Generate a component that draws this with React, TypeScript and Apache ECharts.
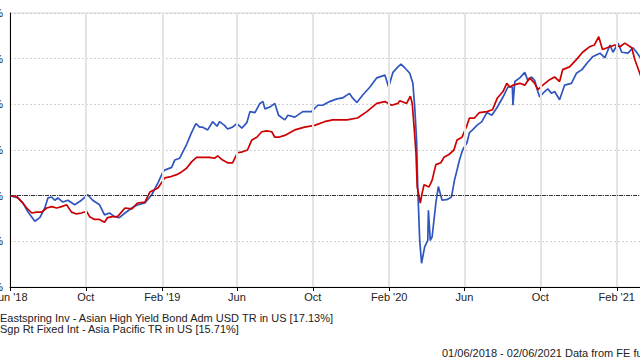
import React, { useEffect, useRef } from "react";
import * as echarts from "echarts";

const blueDates = [
  "2018-06-01","2018-06-14","2018-06-22","2018-06-30","2018-07-11","2018-07-19","2018-07-27","2018-08-01","2018-08-07","2018-08-12","2018-08-17","2018-08-25","2018-09-02","2018-09-13","2018-09-24","2018-10-04","2018-10-12","2018-10-23","2018-10-31","2018-11-08","2018-11-16","2018-11-24","2018-12-03","2018-12-14","2018-12-23",
  "2019-01-04","2019-01-15","2019-01-25","2019-02-02","2019-02-05","2019-02-16","2019-02-21","2019-03-01","2019-03-06","2019-03-12","2019-03-20","2019-03-27","2019-04-02","2019-04-07","2019-04-15","2019-04-23","2019-04-30","2019-05-04","2019-05-12","2019-05-17","2019-05-25","2019-06-01","2019-06-09","2019-06-17","2019-06-22","2019-06-30","2019-07-08","2019-07-13","2019-07-16","2019-07-24","2019-08-01","2019-08-07","2019-08-17","2019-08-22","2019-09-02","2019-09-15","2019-09-29","2019-10-09","2019-10-17","2019-10-28","2019-11-09","2019-11-18","2019-11-29","2019-12-04","2019-12-11","2019-12-20",
  "2020-01-01","2020-01-12","2020-01-25","2020-01-31","2020-02-07","2020-02-15","2020-02-20","2020-02-26","2020-03-05","2020-03-10","2020-03-13","2020-03-16","2020-03-18","2020-03-21","2020-03-24","2020-03-29","2020-04-03","2020-04-04","2020-04-07","2020-04-10","2020-04-16","2020-04-20","2020-04-26","2020-05-05","2020-05-11","2020-05-16","2020-05-24","2020-05-29","2020-06-05","2020-06-09","2020-06-14","2020-06-21","2020-06-29","2020-07-07","2020-07-15","2020-07-23","2020-08-02","2020-08-10","2020-08-17","2020-08-18","2020-08-21","2020-08-29","2020-09-06","2020-09-11","2020-09-17","2020-09-22","2020-09-27","2020-09-30","2020-10-08","2020-10-13","2020-10-19","2020-10-24","2020-11-01","2020-11-09","2020-11-20","2020-11-28","2020-12-07","2020-12-15","2020-12-24",
  "2021-01-05","2021-01-13","2021-01-21","2021-01-26","2021-02-03","2021-02-09","2021-02-19","2021-02-27","2021-03-05","2021-03-10","2021-03-15"
];
const blueValues = [
  0,-0.25,-0.8,-1.8,-2.8,-2.4,-1.35,-0.25,-0.15,-0.5,-0.25,-0.7,-0.5,-1.0,-0.5,0.1,-0.5,-1.0,-2.1,-1.9,-2.3,-2.4,-1.9,-1.35,-1.0,
  -0.8,0.1,1.4,2.6,2.8,3.1,3.9,4.1,4.8,5.6,6.9,7.9,7.5,7.5,7.2,8.1,7.6,8.1,7.7,7.3,7.5,7.9,7.4,8.0,9.2,9.1,10.1,10.3,9.5,9.7,10.1,8.8,8.3,8.8,8.6,9.2,9.2,9.9,9.9,10.3,10.6,10.7,11.2,10.7,10.2,11.0,
  11.9,12.9,13.2,11.9,13.5,14.1,14.4,14.0,13.4,12.3,9.7,6.1,0.6,-4.9,-7.4,-5.6,-4.9,-1.6,-4.9,-4.5,-0.8,1.0,-0.5,-0.4,-0.15,1.7,3.9,5.0,5.8,6.9,7.2,7.7,8.1,9.1,8.8,9.6,10.8,11.9,11.9,9.9,12.5,12.9,13.5,12.6,13.0,12.6,11.4,10.8,11.4,11.7,11.2,11.4,10.5,12.1,12.3,13.4,13.8,14.5,15.2,
  15.6,15.1,16.5,15.7,16.7,15.7,15.6,16.2,15.7,15.2,14.8
];

const redDates = [
  "2018-06-01","2018-06-12","2018-06-20","2018-06-28","2018-07-06","2018-07-14","2018-07-22","2018-07-30","2018-08-07","2018-08-15","2018-08-23","2018-08-31","2018-09-08","2018-09-16","2018-09-24","2018-10-02","2018-10-07","2018-10-15","2018-10-23","2018-10-31","2018-11-05","2018-11-13","2018-11-21","2018-12-03","2018-12-14","2018-12-23",
  "2019-01-04","2019-01-12","2019-01-25","2019-02-05","2019-02-13","2019-02-24","2019-03-04","2019-03-12","2019-03-20","2019-03-28","2019-04-07","2019-04-18","2019-04-26","2019-05-01","2019-05-09","2019-05-17","2019-05-25","2019-06-02","2019-06-10","2019-06-18","2019-06-25","2019-07-03","2019-07-11","2019-07-19","2019-07-27","2019-08-01","2019-08-07","2019-08-17","2019-09-02","2019-09-18","2019-10-04","2019-10-20","2019-11-02","2019-11-25","2019-12-12","2019-12-27",
  "2020-01-12","2020-01-25","2020-02-05","2020-02-15","2020-02-18","2020-02-29","2020-03-06","2020-03-09","2020-03-12","2020-03-15","2020-03-17","2020-03-22","2020-03-25","2020-03-28","2020-04-05","2020-04-10","2020-04-16","2020-04-24","2020-04-29","2020-05-07","2020-05-15","2020-05-20","2020-05-28","2020-06-04","2020-06-09","2020-06-17","2020-06-25","2020-07-07","2020-07-16","2020-07-24","2020-08-02","2020-08-08","2020-08-13","2020-08-18","2020-08-29","2020-09-06","2020-09-14","2020-09-22","2020-09-27","2020-10-05","2020-10-16","2020-10-24","2020-11-01","2020-11-06","2020-11-17","2020-11-28","2020-12-08","2020-12-19","2020-12-27",
  "2021-01-03","2021-01-09","2021-01-21","2021-01-29","2021-02-06","2021-02-14","2021-02-25","2021-03-02","2021-03-10","2021-03-15"
];
const redValues = [
  0,-0.1,-0.7,-1.35,-1.9,-1.8,-1.8,-1.35,-1.2,-1.35,-1.2,-1.0,-1.8,-2.0,-1.9,-1.7,-2.3,-2.6,-2.6,-2.9,-2.4,-2.3,-2.3,-1.35,-1.45,-0.8,
  -0.7,0.4,0.85,1.95,2.05,2.3,2.6,3.0,3.7,4.2,4.2,4.2,4.1,4.35,3.9,3.6,3.6,4.7,4.8,5.0,6.1,6.4,7.0,7.1,7.0,6.4,6.4,6.6,7.2,7.5,7.7,8.1,8.3,8.3,8.5,9.2,
  10.1,10.3,9.9,10.1,10.4,10.1,10.9,10.1,7.5,4.7,0.95,-0.8,0.3,1.2,0.95,1.7,3.4,3.6,4.2,4.5,5.0,6.1,6.4,7.5,8.5,8.5,9.1,9.2,9.4,10.7,11.4,12.3,11.9,12.1,12.3,12.1,12.9,12.3,11.6,12.1,12.7,13.0,12.5,13.8,14.1,14.9,15.7,16.3,16.5,
  17.4,16.0,16.3,16.5,16.3,16.7,16.2,14.9,13.4,12.4
];

const tickDates = ["2018-06-01","2018-10-01","2019-02-01","2019-06-01","2019-10-01","2020-02-01","2020-06-01","2020-10-01","2021-02-01"];
const tickLabels = ["Jun '18","Oct","Feb '19","Jun","Oct","Feb '20","Jun","Oct","Feb '21"];

const seriesNames = [
  "Eastspring Inv - Asian High Yield Bond Adm USD TR in US [17.13%]",
  "Sgp Rt Fixed Int - Asia Pacific TR in US [15.71%]",
];
const footer = "01/06/2018 - 02/06/2021 Data from FE fu";

const toTs = (s: string) => {
  const [y, m, d] = s.split("-").map(Number);
  return Date.UTC(y, m - 1, d);
};

export default function App() {
  const ref = useRef<HTMLDivElement>(null);
  useEffect(() => {
    if (!ref.current) return;
    const chart = echarts.init(ref.current, null, { renderer: "svg" });
    const tickTs = tickDates.map(toTs);
    const labelMap: Record<number, string> = {};
    tickTs.forEach((t, i) => (labelMap[t] = tickLabels[i]));
    const font = "'Liberation Sans', Arial, sans-serif";
    chart.setOption({
      animation: false,
      backgroundColor: "#ffffff",
      grid: {
        left: 10,
        right: 8,
        top: 13,
        bottom: 73,
        containLabel: false,
        outerBoundsMode: "none",
        show: true,
        borderColor: "#d9d9d9",
        borderWidth: 1,
      },
      xAxis: {
        type: "value",
        min: toTs("2018-06-01"),
        max: toTs("2021-06-02"),
        axisLine: { show: true, onZero: false, lineStyle: { color: "#000", width: 1 } },
        axisTick: { show: true, length: 4, lineStyle: { color: "#000" }, customValues: tickTs },
        axisLabel: {
          customValues: tickTs,
          formatter: (v: number) => labelMap[v] ?? "",
          color: "#222",
          fontSize: 11,
          fontFamily: font,
          margin: 4,
          hideOverlap: false,
        },
        splitLine: { show: false },
      },
      yAxis: {
        type: "value",
        min: -10,
        max: 20,
        interval: 5,
        axisLine: { show: true, lineStyle: { color: "#000", width: 1 } },
        axisTick: { show: false },
        axisLabel: {
          formatter: "{value}%",
          color: "#222",
          fontSize: 11,
          fontFamily: font,
          margin: 7,
        },
        splitLine: { show: true, lineStyle: { color: "#d0d0d0", type: [2, 2], width: 1 } },
      },
      series: [
        {
          name: "gridlines",
          type: "line",
          data: [],
          z: 1,
          silent: true,
          markLine: {
            silent: true,
            symbol: "none",
            label: { show: false },
            lineStyle: { color: "#e4e4e4", type: "solid", width: 2 },
            data: tickTs.slice(1).map((t) => ({ xAxis: t })),
          },
        },
        {
          name: seriesNames[0],
          type: "line",
          z: 3,
          data: blueDates.map((d, i) => [toTs(d), blueValues[i]]),
          showSymbol: false,
          lineStyle: { color: "#2f56bf", width: 1.7 },
          itemStyle: { color: "#2f56bf" },
          markLine: {
            silent: true,
            symbol: "none",
            label: { show: false },
            lineStyle: { color: "#333", type: [4, 1, 1, 1], width: 1 },
            data: [{ yAxis: 0 }],
          },
        },
        {
          name: seriesNames[1],
          type: "line",
          z: 4,
          data: redDates.map((d, i) => [toTs(d), redValues[i]]),
          showSymbol: false,
          lineStyle: { color: "#cc0000", width: 1.7 },
          itemStyle: { color: "#cc0000" },
        },
      ],
      graphic: [
        { type: "text", left: 0, top: 312, style: { text: seriesNames[0], fill: "#222", font: `11px ${font}` } },
        { type: "text", left: 0, top: 323, style: { text: seriesNames[1], fill: "#222", font: `11px ${font}` } },
        { type: "text", left: 442, top: 347, style: { text: footer, fill: "#222", font: `11px ${font}` } },
      ],
    });
    return () => chart.dispose();
  }, []);
  return (
    <div style={{ position: "fixed", left: 0, top: 0, width: 640, height: 360, overflow: "hidden", background: "#fff" }}>
      <div ref={ref} style={{ width: 700, height: 360 }} />
    </div>
  );
}
